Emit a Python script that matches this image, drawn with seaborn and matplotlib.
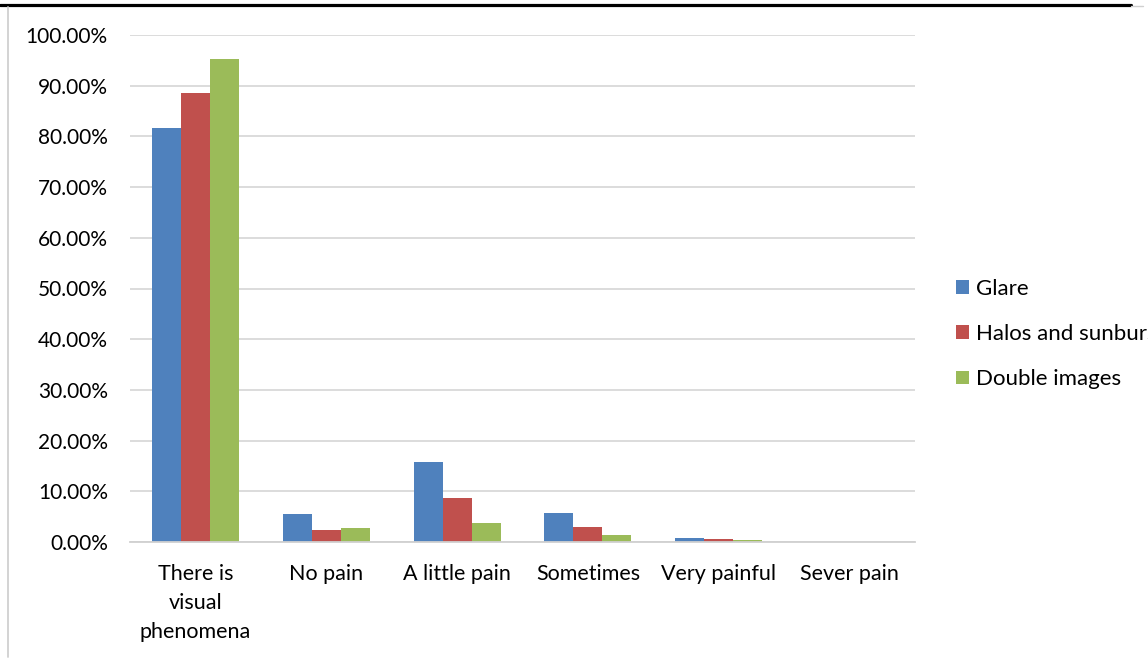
import matplotlib
matplotlib.use("Agg")
import matplotlib.pyplot as plt
from matplotlib.lines import Line2D
from matplotlib.ticker import FuncFormatter, MultipleLocator, FixedLocator
import seaborn as sns
import pandas as pd

# Survey results (% of respondents)
categories = ["There is\nvisual\nphenomena", "No pain", "A little pain",
              "Sometimes", "Very painful", "Sever pain"]
series = ["Glare", "Halos and sunburst", "Double images"]
glare = [81.7, 5.5, 15.8, 5.7, 0.85, 0.0]
halos = [88.6, 2.4, 8.6, 2.9, 0.65, 0.0]
double_images = [95.3, 2.7, 3.7, 1.4, 0.3, 0.0]
colors = ["#4F81BD", "#C0504D", "#9BBB59"]

rows = []
for name, vals in zip(series, [glare, halos, double_images]):
    for cat, v in zip(categories, vals):
        rows.append({"category": cat, "series": name, "value": v})
df = pd.DataFrame(rows)

sns.set_style("white")
plt.rcParams["font.family"] = ["Lato", "DejaVu Sans"]

W, H = 1148, 659
fig = plt.figure(figsize=(W / 100, H / 100), dpi=100)
ax = fig.add_axes([130 / W, 1 - 542 / H, (915 - 130) / W, (542 - 35) / H])

sns.barplot(data=df, x="category", y="value", hue="series", order=categories,
            hue_order=series, palette=colors, width=0.665, saturation=1,
            linewidth=0, ax=ax, legend=True)

ax.set_ylim(0, 100)
ax.set_xlim(-0.5, len(categories) - 0.5)
ax.yaxis.set_major_locator(MultipleLocator(10))
ax.yaxis.set_major_formatter(FuncFormatter(lambda v, _: f"{v:.2f}%"))
ax.grid(axis="y", color="#D9D9D9", linewidth=1.3)
ax.set_axisbelow(True)
ax.set_xlabel("")
ax.set_ylabel("")

for side in ["top", "right", "left"]:
    ax.spines[side].set_visible(False)
ax.spines["bottom"].set_color("#D0D0D0")
ax.spines["bottom"].set_linewidth(1.3)

ax.tick_params(axis="y", length=0, pad=16, labelsize=15, labelcolor="#000000")
ax.tick_params(axis="x", which="major", length=0, pad=16, labelsize=15.5,
               labelcolor="#000000")
ax.xaxis.set_minor_locator(FixedLocator([i - 0.5 for i in range(len(categories) + 1)]))
ax.tick_params(axis="x", which="minor", length=6, width=1.3, color="#D0D0D0",
               direction="out")
for lbl in ax.get_xticklabels():
    lbl.set_linespacing(1.55)

leg = ax.legend(loc="center left", bbox_to_anchor=(956 / W, 1 - 334 / H),
                bbox_transform=fig.transFigure, frameon=False, fontsize=16,
                handlelength=0.59, handleheight=0.59, handletextpad=0.32,
                labelspacing=1.14, borderaxespad=0, borderpad=0)
for t in leg.get_texts():
    t.set_color("#000000")

# page frame lines
fig.add_artist(Line2D([0, 1131 / W], [1 - 5 / H, 1 - 5 / H],
                      transform=fig.transFigure, color="black", linewidth=2.3))
fig.add_artist(Line2D([1131 / W, 1143 / W], [1 - 6 / H, 1 - 6 / H],
                      transform=fig.transFigure, color="#D0D0D0", linewidth=1))
fig.add_artist(Line2D([7.5 / W, 7.5 / W], [1 - 7 / H, 1 - 657 / H],
                      transform=fig.transFigure, color="#D0D0D0", linewidth=1.3))

fig.savefig("out.png", dpi=100)
